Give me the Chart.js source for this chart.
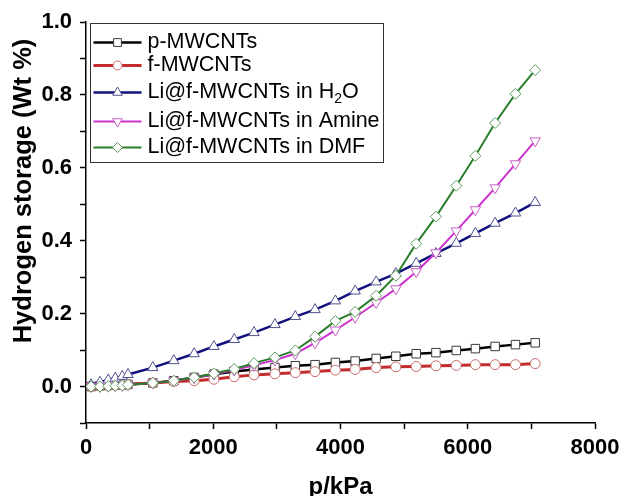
<!DOCTYPE html>
<html>
<head>
<meta charset="utf-8">
<script src="https://cdn.jsdelivr.net/npm/chart.js@4.4.1/dist/chart.umd.min.js"></script>
<style>
  html, body { margin: 0; padding: 0; background: #fff; }
  #wrap { width: 621px; height: 496px; }
</style>
</head>
<body>
<div id="wrap"><canvas id="chart" width="621" height="496"></canvas></div>
<script>
// pressure points (kPa)
const pressure = [80, 220, 350, 460, 570, 660, 1050, 1380, 1700, 2010, 2330, 2640, 2970,
  3290, 3600, 3920, 4230, 4560, 4870, 5190, 5500, 5820, 6120, 6430, 6750, 7060];

// hydrogen storage (Wt %)
const pMWCNTs = [0, 0.002, 0.003, 0.004, 0.005, 0.006, 0.010, 0.016, 0.025, 0.034, 0.041, 0.047, 0.052,
  0.057, 0.060, 0.066, 0.070, 0.077, 0.083, 0.090, 0.093, 0.099, 0.104, 0.110, 0.115, 0.120];
const fMWCNTs = [0, 0.002, 0.003, 0.004, 0.005, 0.006, 0.010, 0.014, 0.016, 0.020, 0.027, 0.032, 0.035,
  0.038, 0.041, 0.045, 0.047, 0.052, 0.054, 0.055, 0.057, 0.058, 0.060, 0.060, 0.060, 0.063];
const liH2O = [0.005, 0.012, 0.018, 0.023, 0.028, 0.033, 0.052, 0.071, 0.090, 0.110, 0.129, 0.148, 0.170,
  0.192, 0.211, 0.235, 0.262, 0.287, 0.310, 0.338, 0.365, 0.393, 0.420, 0.448, 0.476, 0.505];
const liAmine = [0, 0, 0.001, 0.002, 0.003, 0.005, 0.010, 0.016, 0.024, 0.034, 0.045, 0.058, 0.073,
  0.090, 0.120, 0.155, 0.190, 0.230, 0.268, 0.315, 0.367, 0.427, 0.485, 0.545, 0.611, 0.674];
const liDMF = [0, 0, 0.001, 0.002, 0.003, 0.005, 0.010, 0.016, 0.025, 0.036, 0.048, 0.064, 0.080,
  0.099, 0.137, 0.180, 0.205, 0.249, 0.304, 0.392, 0.466, 0.551, 0.633, 0.723, 0.803, 0.868];

const seriesNames = ["p-MWCNTs", "f-MWCNTs", "Li@f-MWCNTs in H2O", "Li@f-MWCNTs in Amine", "Li@f-MWCNTs in DMF"];
const seriesValues = [pMWCNTs, fMWCNTs, liH2O, liAmine, liDMF];
const lineColors = ["#000000", "#c22b2b", "#10107e", "#cc33cc", "#2a7d2a"];
const markerColors = ["#3a3a3a", "#c96a6a", "#505090", "#c660c6", "#5c9c5c"];
const markerStyles = ["rect", "circle", "triangle", "triangle", "rectRot"];
const markerRotations = [0, 0, 0, 180, 0];
const markerRadius = [6, 5, 6, 6, 5.5];
const lineWidths = [2.5, 3, 2.5, 2, 2];

const FONT = "'Liberation Sans', Arial, sans-serif";

const datasets = seriesNames.map((name, i) => ({
  label: name,
  data: pressure.map((p, j) => ({ x: p, y: seriesValues[i][j] })),
  borderColor: lineColors[i],
  borderWidth: lineWidths[i],
  pointStyle: markerStyles[i],
  pointRotation: markerRotations[i],
  pointRadius: markerRadius[i],
  pointBackgroundColor: "#ffffff",
  pointBorderColor: markerColors[i],
  pointBorderWidth: 1,
  tension: 0,
  order: seriesNames.length - i
}));

// framed legend with line + marker samples
const boxLegend = {
  id: "boxLegend",
  afterDatasetsDraw(chart) {
    const ctx = chart.ctx;
    const left = chart.chartArea.left + 4.5, top = chart.chartArea.top + 1.5;
    const rows = [19, 42, 69, 98, 124];
    ctx.save();
    ctx.fillStyle = "#fff";
    ctx.fillRect(left, top, 293, 139);
    ctx.strokeStyle = "#333";
    ctx.lineWidth = 1;
    ctx.strokeRect(left, top, 293, 139);
    seriesNames.forEach((name, i) => {
      const y = top + rows[i];
      ctx.strokeStyle = lineColors[i];
      ctx.lineWidth = lineWidths[i];
      ctx.beginPath();
      ctx.moveTo(left + 3, y);
      ctx.lineTo(left + 51, y);
      ctx.stroke();
      ctx.fillStyle = "#fff";
      ctx.strokeStyle = markerColors[i];
      ctx.lineWidth = 1;
      Chart.helpers.drawPoint(ctx, {
        pointStyle: markerStyles[i], radius: markerRadius[i] - 0.5,
        rotation: markerRotations[i], borderWidth: 1
      }, left + 27, y);
      ctx.fillStyle = "#000";
      ctx.font = "21.5px " + FONT;
      ctx.textBaseline = "middle";
      ctx.textAlign = "left";
      let x = left + 57;
      if (name.endsWith("H2O")) {
        const base = name.slice(0, -2);
        ctx.fillText(base, x, y);
        x += ctx.measureText(base).width;
        ctx.font = "14px " + FONT;
        ctx.fillText("2", x, y + 7);
        x += ctx.measureText("2").width;
        ctx.font = "21.5px " + FONT;
        ctx.fillText("O", x, y);
      } else {
        ctx.fillText(name, x, y);
      }
    });
    ctx.restore();
  }
};

// vertical axis title, sitting a little above the axis centre as in the original
const yTitle = {
  id: "yTitle",
  afterDraw(chart) {
    const ctx = chart.ctx;
    ctx.save();
    ctx.translate(31, 191);
    ctx.rotate(-Math.PI / 2);
    ctx.font = "bold 25.5px " + FONT;
    ctx.fillStyle = "#000";
    ctx.textAlign = "center";
    ctx.textBaseline = "alphabetic";
    ctx.fillText("Hydrogen storage (Wt %)", 0, 0);
    ctx.restore();
  }
};

const axisGrid = { drawOnChartArea: false, drawTicks: true, tickLength: 6, color: "#000", tickWidth: 1.5 };
const axisBorder = { display: true, color: "#000", width: 1.5 };

new Chart(document.getElementById("chart"), {
  type: "line",
  data: { datasets },
  plugins: [boxLegend, yTitle],
  options: {
    responsive: false,
    animation: false,
    layout: { padding: { top: 22, right: 26, left: 0, bottom: 0 } },
    plugins: { legend: { display: false }, tooltip: { enabled: false } },
    scales: {
      x: {
        type: "linear",
        min: 0,
        max: 8000,
        afterFit: s => { s.height = 73; s.paddingRight = 20; s.paddingLeft = 0; },
        ticks: {
          stepSize: 1000,
          autoSkip: false,
          maxRotation: 0,
          padding: 6,
          color: "#000",
          font: { family: FONT, size: 22, weight: "bold" },
          callback: v => (v % 2000 === 0 ? String(v) : "")
        },
        grid: axisGrid,
        border: axisBorder,
        title: {
          display: true,
          text: "p/kPa",
          color: "#000",
          font: { family: FONT, size: 24, weight: "bold", lineHeight: 0.75 },
          padding: 0
        }
      },
      y: {
        min: -0.1,
        max: 1.0,
        afterFit: s => { s.width = 86; },
        ticks: {
          stepSize: 0.1,
          autoSkip: false,
          padding: 8,
          color: "#000",
          font: { family: FONT, size: 22, weight: "bold" },
          callback: v => (Math.round(v * 10) % 2 === 0 ? v.toFixed(1) : "")
        },
        grid: axisGrid,
        border: axisBorder
      }
    }
  }
});
</script>
</body>
</html>
